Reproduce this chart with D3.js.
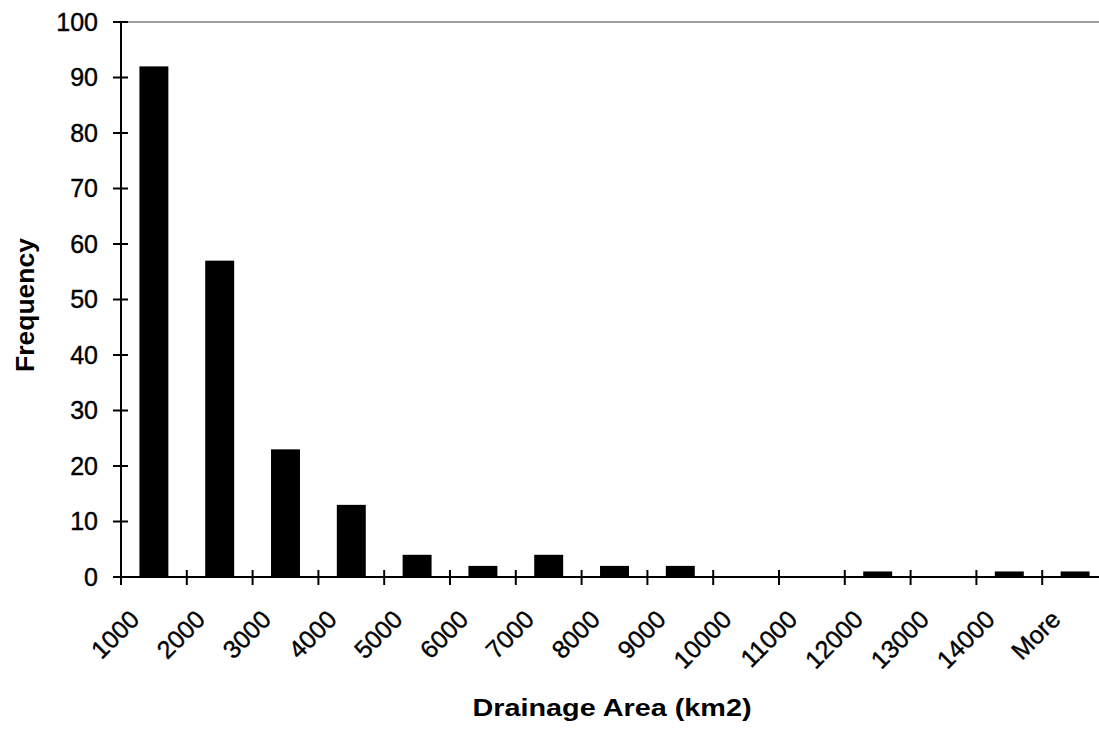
<!DOCTYPE html>
<html>
<head>
<meta charset="utf-8">
<script src="https://cdn.jsdelivr.net/npm/d3@7"></script>
<style>
  html, body { margin: 0; padding: 0; background: #fff; }
  svg { display: block; }
  text { font-family: Arial, "Liberation Sans", sans-serif; fill: #000; }
</style>
</head>
<body>
<svg id="chart" width="1099" height="730"></svg>
<script>
const categories = ["1000","2000","3000","4000","5000","6000","7000","8000","9000","10000","11000","12000","13000","14000","More"];
const frequency = [92, 57, 23, 13, 4, 2, 4, 2, 2, 0, 0, 1, 0, 1, 1];
const yTicks = [0, 10, 20, 30, 40, 50, 60, 70, 80, 90, 100];
const xTitle = "Drainage Area (km2)";
const yTitle = "Frequency";

(function () {
const svg = d3.select("#chart");
const W = 1099;
const plotLeft = 121, plotTop = 22, plotBottom = 577;
const step = 65.8;
const plotRight = plotLeft + step * categories.length;

const pad = 0.56;
const x = d3.scaleBand().domain(categories).range([plotLeft, plotRight])
  .paddingInner(pad).paddingOuter(pad / 2);
const y = d3.scaleLinear().domain([0, 100]).range([plotBottom, plotTop]);

// top border of plot area (grey)
svg.append("line")
  .attr("x1", plotLeft).attr("x2", W)
  .attr("y1", y(100)).attr("y2", y(100))
  .attr("stroke", "#a0a0a0").attr("stroke-width", 2);

// bars
svg.append("g").selectAll("rect").data(categories).join("rect")
  .attr("x", d => x(d))
  .attr("width", x.bandwidth())
  .attr("y", (d, i) => y(frequency[i]))
  .attr("height", (d, i) => y(0) - y(frequency[i]))
  .attr("fill", "#000");

// y axis
const ya = svg.append("g");
ya.append("line").attr("x1", plotLeft).attr("x2", plotLeft)
  .attr("y1", y(100)).attr("y2", y(0))
  .attr("stroke", "#000").attr("stroke-width", 2);
ya.selectAll("line.tick").data(yTicks).join("line").attr("class", "tick")
  .attr("x1", plotLeft - 8).attr("x2", plotLeft + 7)
  .attr("y1", d => y(d)).attr("y2", d => y(d))
  .attr("stroke", "#000").attr("stroke-width", 2);
ya.selectAll("text").data(yTicks).join("text")
  .attr("x", 98).attr("y", d => y(d) + 8.5)
  .attr("text-anchor", "end")
  .attr("font-size", 25)
  .attr("stroke", "#000").attr("stroke-width", 0.4)
  .text(d => d);

// x axis
const xa = svg.append("g");
xa.append("line").attr("x1", plotLeft).attr("x2", plotRight)
  .attr("y1", y(0)).attr("y2", y(0))
  .attr("stroke", "#000").attr("stroke-width", 2);
const boundaries = categories.map(c => x(c) - x.step() * pad / 2);
xa.selectAll("line.tick").data(boundaries).join("line").attr("class", "tick")
  .attr("x1", d => d).attr("x2", d => d)
  .attr("y1", y(0) - 7).attr("y2", y(0) + 8)
  .attr("stroke", "#000").attr("stroke-width", 2);
xa.selectAll("text").data(categories).join("text")
  .attr("transform", d => `translate(${x(d) + x.bandwidth() / 2 - 13},${y(0) + 44}) rotate(-45)`)
  .attr("text-anchor", "end")
  .attr("font-size", 25)
  .attr("stroke", "#000").attr("stroke-width", 0.4)
  .text(d => d);

// axis titles
svg.append("text")
  .attr("x", 612).attr("y", 716)
  .attr("text-anchor", "middle")
  .attr("font-size", 24).attr("font-weight", "bold")
  .attr("textLength", 279).attr("lengthAdjust", "spacingAndGlyphs")
  .text(xTitle);
svg.append("text")
  .attr("transform", "translate(34,305) rotate(-90)")
  .attr("text-anchor", "middle")
  .attr("font-size", 26.5).attr("font-weight", "bold")
  .text(yTitle);
})();
</script>
</body>
</html>
